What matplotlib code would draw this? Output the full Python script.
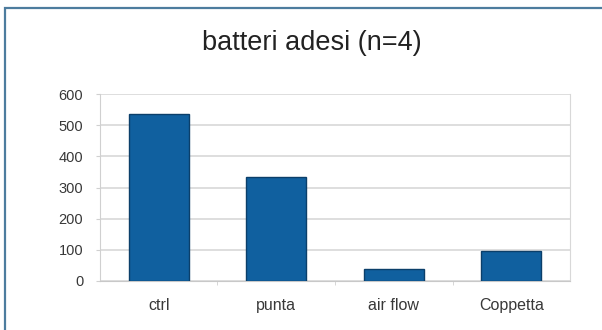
import matplotlib.pyplot as plt
from matplotlib.patches import Rectangle

categories = ["ctrl", "punta", "air flow", "Coppetta"]
values = [537, 334, 37, 95]
yticks = [0, 100, 200, 300, 400, 500, 600]

plt.rcParams['font.family'] = ['Liberation Sans', 'DejaVu Sans']

fig = plt.figure(figsize=(6.02, 3.3), dpi=100)
ax = fig.add_axes([0.166, 0.1485, 0.781, 0.5665])

x = range(len(categories))
ax.bar(x, values, width=0.51, color='#10609f', edgecolor='#0b3f6a', linewidth=1.0, zorder=3)

ax.set_xlim(-0.5, len(categories) - 0.5)
ax.set_ylim(0, 600)
ax.set_yticks(yticks)
ax.set_xticks(list(x))
ax.set_xticklabels(categories)
ax.set_xticks([0.5, 1.5, 2.5], minor=True)

ax.grid(axis='y', color='#d8d8d8', linewidth=1.2, zorder=0)
ax.spines['top'].set_visible(False)
ax.spines['left'].set_color('#d0d0d0')
ax.spines['right'].set_color('#d8d8d8')
ax.spines['bottom'].set_color('#c8c8c8')
ax.tick_params(axis='y', which='major', length=3, color='#d0d0d0', pad=9,
               labelsize=10.5, labelcolor='#383838')
ax.tick_params(axis='x', which='major', length=0, pad=12, labelsize=11.5, labelcolor='#383838')
ax.tick_params(axis='x', which='minor', length=3, color='#d0d0d0')

fig.text(0.518, 0.87, "batteri adesi (n=4)", ha='center', va='center', fontsize=19.5, color='#222222')

# blue frame around the slide (top and left edges visible)
fig.add_artist(Rectangle((5 / 602, -0.1), 1.2, 1.1 - 8 / 330, transform=fig.transFigure,
                         fill=False, edgecolor='#4d7c9e', linewidth=1.6))

fig.savefig("out.png", dpi=100)
